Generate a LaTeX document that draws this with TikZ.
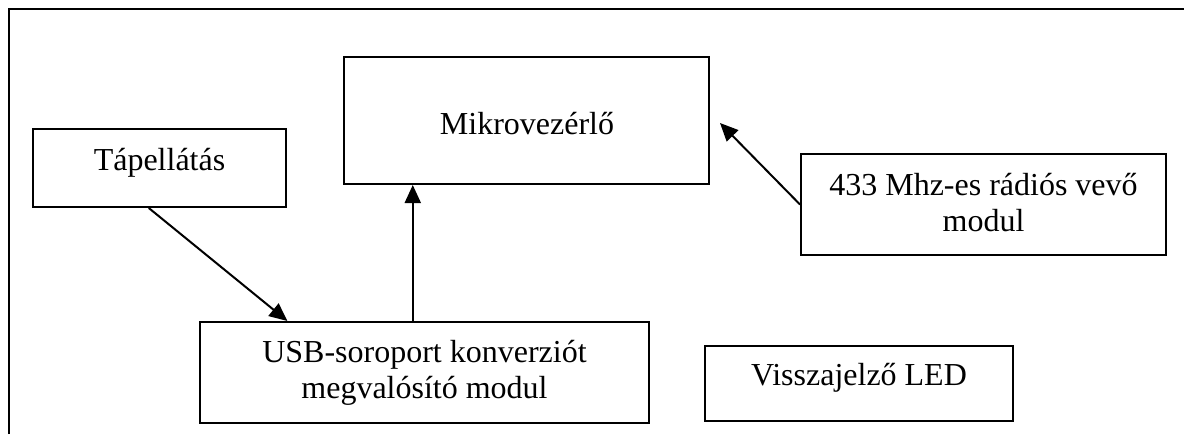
\documentclass[tikz,border=0pt]{standalone}
\usepackage{fontspec}
\setmainfont{Liberation Serif}
\usetikzlibrary{arrows.meta,calc}
\tikzset{
  box/.style={draw=black, line width=2pt, rectangle, inner sep=0pt, fill=none},
  lbl/.style={anchor=base, inner sep=0pt, align=center, font=\fontsize{32}{36}\selectfont},
  arr/.style={line width=2pt, -{Triangle[length=18pt,width=16pt]}},
  frame/.style={line width=2.2pt}
}
\begin{document}
\begin{tikzpicture}[x=1pt,y=-1pt]
\useasboundingbox (0,0) rectangle (1184,434);
\fill[white] (0,0) rectangle (1184,434);
% outer frame (only top and left edges visible)
\coordinate (fbl) at (9,434);
\coordinate (ftl) at (9,9);
\coordinate (ftr) at (1184,9);
\draw[frame] (fbl) -- (ftl) -- (ftr);
% boxes
\node[box, minimum width=253pt, minimum height=78pt] (tap) at (159.5,168) {};
\node[box, minimum width=365pt, minimum height=127pt] (mikro) at (526.5,120.5) {};
\node[box, minimum width=365pt, minimum height=101pt] (radio) at (983.5,204.5) {};
\node[box, minimum width=449pt, minimum height=101pt] (usb) at (424.5,372.5) {};
\node[box, minimum width=308pt, minimum height=75pt] (led) at (859,383.5) {};
% texts (base = baseline of the last line)
\node[lbl] (tapt) at (159.5,170) {Tápellátás};
\node[lbl] (mikrot) at (527,134) {Mikrovezérlő};
\node[lbl] (radiot) at (983.5,231) {433 Mhz-es rádiós vevő\\modul};
\node[lbl] (usbt) at (424.5,398) {USB-soroport konverziót\\megvalósító modul};
\node[lbl] (ledt) at (859,385) {Visszajelző LED};
% connectors
\coordinate (tapout) at ($(tap.south west)!0.458!(tap.south east)$);
\coordinate (usbin) at ($(usb.north west)!0.196!(usb.north east)$);
\draw[arr] (tapout) -- (usbin);
\coordinate (usbout) at ($(usb.north west)!0.474!(usb.north east)$);
\draw[arr] (usbout) -- (usbout |- mikro.south);
\coordinate (radioout) at (radio.west);
\coordinate (mikroin) at ($(mikro.east)+(10,2.5)$);
\draw[arr] (radioout) -- (mikroin);
\end{tikzpicture}
\end{document}
